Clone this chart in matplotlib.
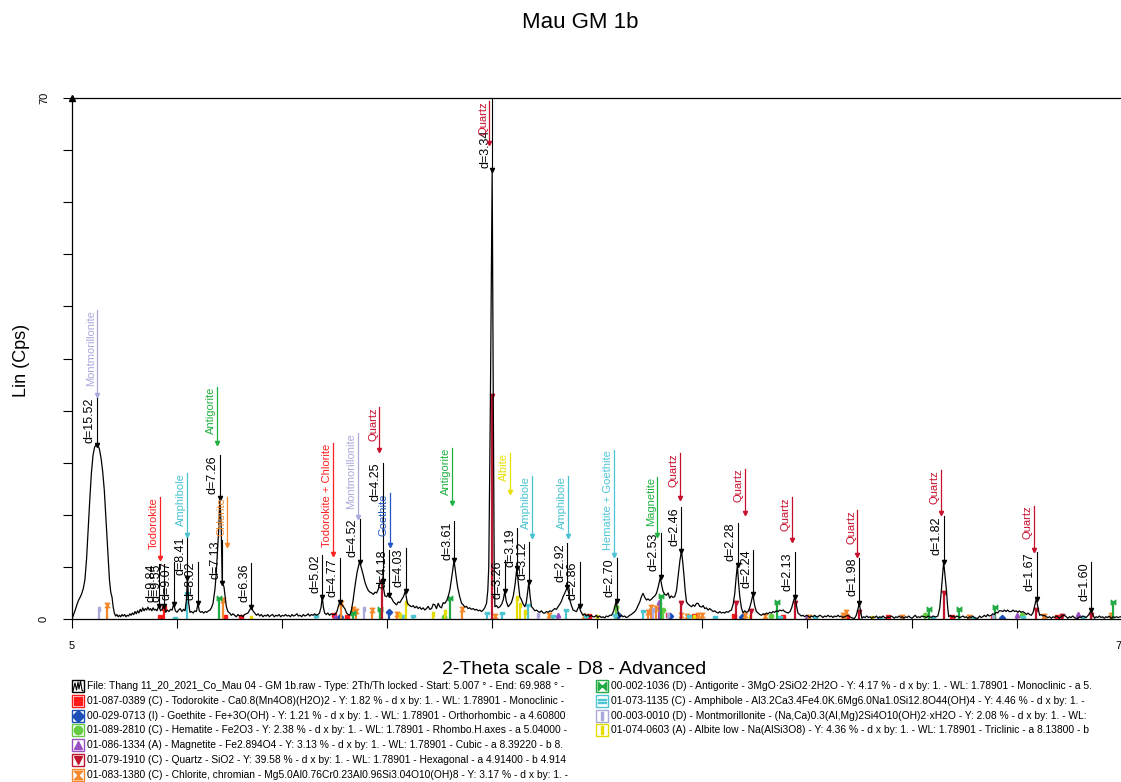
import matplotlib
matplotlib.use("Agg")
import matplotlib.pyplot as plt
from matplotlib.patches import Rectangle
from matplotlib.lines import Line2D
from matplotlib.path import Path
from matplotlib import transforms

plt.rcParams['font.family'] = ['Liberation Sans', 'DejaVu Sans']

W, H = 1121, 782

# scan (2-theta, Cps), split in pieces
scan_a = [(5.00, 0.0), (5.10, 0.6), (5.20, 1.2), (5.30, 1.9), (5.40, 2.5), (5.50, 2.9), (5.60, 3.4),
          (5.70, 4.1), (5.80, 5.3), (5.90, 8.0), (6.00, 12.0), (6.10, 16.0), (6.20, 19.6), (6.30, 22.0),
          (6.40, 23.1), (6.50, 23.4), (6.60, 23.4), (6.70, 22.8), (6.80, 21.6), (6.90, 19.8), (7.00, 17.3),
          (7.10, 13.5), (7.20, 9.7), (7.32, 5.2), (7.40, 3.6), (7.48, 2.9), (7.55, 1.6), (7.62, 0.8),
          (7.70, 0.4), (7.78, 0.6), (7.86, 0.3), (7.94, 0.5), (8.02, 0.3), (8.10, 0.6), (8.18, 0.4),
          (8.26, 0.6), (8.34, 0.3), (8.42, 0.5), (8.50, 0.4), (8.58, 0.7), (8.66, 0.5), (8.74, 0.8),
          (8.82, 0.6), (8.90, 1.0), (8.98, 0.7), (9.06, 1.1), (9.14, 0.8), (9.22, 1.3), (9.30, 1.0),
          (9.38, 1.5), (9.46, 1.1), (9.54, 1.4), (9.62, 1.2), (9.70, 1.6), (9.78, 1.2), (9.86, 1.4),
          (9.94, 1.1), (10.02, 1.5), (10.10, 1.2), (10.18, 1.3), (10.26, 1.1), (10.38, 1.8), (10.48, 1.1),
          (10.58, 1.3), (10.69, 1.8), (10.80, 0.9), (10.90, 1.2), (11.00, 1.0), (11.10, 1.3), (11.20, 1.2),
          (11.29, 2.0), (11.40, 1.1), (11.50, 0.9), (11.60, 1.2), (11.70, 1.4), (11.80, 1.0), (11.90, 1.3),
          (12.00, 1.1), (12.08, 2.5), (12.15, 5.5), (12.22, 2.2), (12.30, 0.9), (12.40, 1.0), (12.50, 0.8),
          (12.60, 1.1), (12.70, 1.0), (12.80, 2.1), (12.88, 1.1), (12.96, 0.9), (13.05, 1.0), (13.15, 0.8),
          (13.25, 1.0), (13.35, 0.9), (13.45, 1.1), (13.55, 1.2), (13.65, 1.6), (13.73, 2.1), (13.85, 4.0),
          (13.93, 6.1), (14.02, 9.5), (14.08, 12.0), (14.16, 16.2), (14.24, 12.0), (14.30, 4.8), (14.36, 4.6),
          (14.41, 4.3), (14.48, 3.0), (14.55, 1.7), (14.65, 1.0), (14.76, 0.8), (14.86, 0.5), (14.96, 0.7),
          (15.07, 0.5), (15.17, 0.3), (15.27, 0.6), (15.37, 0.4), (15.48, 0.5), (15.58, 0.3), (15.68, 0.6),
          (15.78, 0.7), (15.89, 0.8), (16.00, 1.2), (16.11, 1.65), (16.20, 1.1), (16.31, 0.8), (16.42, 0.5),
          (16.52, 0.7), (16.62, 0.4), (16.72, 0.6), (16.82, 0.3), (16.92, 0.5), (17.02, 0.4), (17.12, 0.6),
          (17.22, 0.3), (17.32, 0.5), (17.42, 0.6), (17.52, 0.3), (17.62, 0.5), (17.72, 0.4), (17.82, 0.6),
          (17.92, 0.3), (18.02, 0.5), (18.12, 0.4), (18.22, 0.6), (18.32, 0.4), (18.42, 0.5), (18.52, 0.3),
          (18.62, 0.6), (18.72, 0.4), (18.82, 0.5), (18.92, 0.7), (19.02, 0.4), (19.12, 0.5), (19.22, 0.3),
          (19.32, 0.6), (19.42, 0.4), (19.52, 0.5), (19.62, 0.7), (19.72, 0.4), (19.82, 0.6), (19.92, 0.5)]
scan_b = [(20.02, 0.7), (20.12, 0.5), (20.22, 0.6), (20.32, 0.8), (20.42, 1.6), (20.49, 3.0), (20.56, 1.6),
          (20.64, 0.8), (20.74, 0.6), (20.84, 0.8), (20.94, 0.5), (21.04, 0.7), (21.14, 0.6), (21.27, 0.6),
          (21.40, 1.0), (21.50, 1.8), (21.58, 2.3), (21.68, 2.0), (21.78, 1.7), (21.89, 1.4), (22.00, 0.8),
          (22.10, 0.6), (22.20, 0.5), (22.30, 1.2), (22.40, 2.5), (22.51, 4.3), (22.65, 6.3), (22.80, 7.7),
          (22.92, 6.8), (23.03, 5.9), (23.14, 4.9), (23.24, 4.3), (23.35, 3.8), (23.45, 3.6), (23.55, 3.5),
          (23.65, 3.3), (23.76, 3.6), (23.86, 3.5), (23.96, 4.0), (24.06, 4.8), (24.14, 5.0), (24.21, 5.1),
          (24.30, 4.0), (24.37, 3.1), (24.47, 3.0), (24.57, 3.3), (24.68, 3.0), (24.78, 2.8), (24.90, 2.3),
          (25.00, 2.1), (25.09, 1.9), (25.20, 2.3), (25.30, 2.2), (25.40, 2.6), (25.52, 3.0), (25.64, 3.8),
          (25.72, 2.6), (25.77, 2.1), (25.90, 1.8), (26.02, 1.65), (26.12, 1.8), (26.22, 1.5), (26.33, 1.7),
          (26.43, 1.4), (26.53, 1.6), (26.63, 1.3), (26.74, 1.5), (26.84, 1.2), (26.94, 1.4), (27.05, 1.7),
          (27.15, 1.3), (27.26, 1.4), (27.36, 2.0), (27.46, 1.9), (27.56, 1.4), (27.67, 2.1), (27.77, 1.65),
          (27.87, 1.5), (27.98, 2.2), (28.08, 2.1), (28.20, 2.5), (28.30, 3.1), (28.39, 3.9), (28.52, 5.8),
          (28.65, 7.9), (28.76, 6.0), (28.87, 4.3), (29.00, 3.0), (29.12, 2.1), (29.22, 1.9), (29.32, 1.6),
          (29.42, 1.7), (29.52, 1.4), (29.62, 1.5), (29.73, 1.3), (29.84, 1.4), (29.94, 1.2), (30.04, 1.3),
          (30.14, 1.1), (30.25, 1.2), (30.35, 1.0), (30.45, 1.2), (30.55, 1.5), (30.66, 2.1), (30.74, 3.8),
          (30.80, 7.0), (30.90, 29.0), (31.01, 60.3), (31.08, 29.0), (31.14, 6.0), (31.18, 1.65), (31.28, 1.8),
          (31.38, 1.5), (31.49, 1.65), (31.60, 2.0), (31.70, 2.6), (31.79, 3.7), (31.88, 2.4), (32.00, 1.65),
          (32.10, 1.9), (32.20, 2.2), (32.31, 3.0), (32.42, 4.5), (32.54, 6.9), (32.62, 5.0), (32.72, 3.0),
          (32.82, 2.6), (32.93, 2.0), (33.03, 1.65), (33.12, 2.2), (33.20, 3.5), (33.28, 5.0), (33.36, 3.0),
          (33.45, 1.65), (33.55, 1.4), (33.65, 1.1), (33.76, 1.2), (33.86, 1.0), (33.96, 0.9), (34.06, 1.1),
          (34.17, 0.8), (34.27, 0.8), (34.37, 1.0), (34.47, 0.9), (34.58, 1.1), (34.68, 1.0), (34.78, 1.2),
          (34.88, 1.4), (34.99, 1.3), (35.09, 1.65), (35.20, 2.0), (35.30, 2.4), (35.40, 3.0), (35.53, 3.6),
          (35.66, 4.3), (35.74, 3.6), (35.82, 2.55), (35.92, 1.8), (36.02, 1.2), (36.12, 1.1), (36.23, 1.0),
          (36.31, 1.4), (36.39, 1.75), (36.50, 1.0), (36.64, 0.5), (36.74, 0.7), (36.84, 0.4), (36.94, 0.6),
          (37.04, 0.3), (37.14, 0.5), (37.25, 0.3), (37.36, 0.3), (37.46, 0.5), (37.56, 0.2), (37.66, 0.4),
          (37.77, 0.2), (37.87, 0.3), (37.98, 0.15), (38.08, 0.4), (38.18, 0.3), (38.29, 0.5), (38.40, 0.5),
          (38.50, 0.9), (38.60, 1.6), (38.68, 2.4), (38.76, 1.4), (38.84, 0.6), (38.91, 0.3), (39.01, 0.5),
          (39.11, 0.3), (39.21, 0.4), (39.31, 0.2), (39.42, 0.3), (39.52, 0.5), (39.62, 0.6), (39.73, 0.8),
          (39.84, 1.0), (39.94, 1.3)]
scan_c = [(40.04, 1.8), (40.15, 2.3), (40.25, 3.0), (40.35, 3.45), (40.46, 2.9), (40.56, 2.55), (40.66, 2.7),
          (40.76, 2.5), (40.87, 2.65), (40.97, 2.9), (41.08, 3.1), (41.18, 3.45), (41.30, 4.4), (41.42, 5.6),
          (41.50, 4.6), (41.59, 3.7), (41.70, 3.3), (41.80, 3.2), (41.90, 3.5), (42.00, 2.8), (42.10, 3.1),
          (42.20, 2.9), (42.31, 3.0), (42.42, 3.8), (42.52, 5.7), (42.63, 7.8), (42.73, 9.2), (42.81, 7.6),
          (42.89, 5.7), (42.96, 3.8), (43.04, 2.3), (43.14, 2.0), (43.25, 1.8), (43.35, 1.65), (43.45, 1.9),
          (43.55, 1.7), (43.66, 2.1), (43.76, 2.1), (43.86, 1.7), (43.97, 1.6), (44.07, 1.8), (44.17, 1.4),
          (44.27, 1.5), (44.38, 1.2), (44.48, 1.4), (44.59, 1.2), (44.69, 1.0), (44.79, 1.1), (44.90, 0.9),
          (45.00, 0.8), (45.10, 1.0), (45.21, 0.8), (45.31, 0.9), (45.41, 0.8), (45.51, 1.0), (45.62, 0.9),
          (45.72, 1.1), (45.82, 1.2), (45.93, 2.0), (46.03, 3.45), (46.11, 5.5), (46.19, 7.2), (46.26, 5.0),
          (46.34, 3.0), (46.44, 1.5), (46.54, 0.8), (46.64, 1.1), (46.75, 0.9), (46.85, 1.0), (46.95, 1.5),
          (47.05, 2.3), (47.15, 3.3), (47.26, 1.8), (47.37, 1.0), (47.47, 0.8), (47.58, 0.6), (47.68, 0.5),
          (47.78, 0.7), (47.88, 0.6), (47.99, 0.8), (48.09, 0.7), (48.19, 0.9), (48.30, 0.8), (48.40, 1.0),
          (48.50, 0.9), (48.61, 1.1), (48.71, 1.0), (48.81, 1.2), (48.92, 1.1), (49.02, 1.2), (49.12, 1.0),
          (49.22, 0.9), (49.33, 0.8), (49.45, 1.0), (49.55, 1.5), (49.64, 2.2), (49.74, 3.0), (49.84, 1.9),
          (49.94, 0.8), (50.04, 0.6), (50.15, 0.4), (50.25, 0.5), (50.36, 0.3), (50.46, 0.5), (50.56, 0.4),
          (50.67, 0.2), (50.77, 0.4), (50.87, 0.3), (50.97, 0.5), (51.08, 0.3), (51.18, 0.3), (51.28, 0.5),
          (51.38, 0.4), (51.49, 0.2), (51.59, 0.4), (51.69, 0.3), (51.80, 0.5), (51.90, 0.3), (52.01, 0.4),
          (52.11, 0.2), (52.21, 0.4), (52.32, 0.3), (52.42, 0.5), (52.52, 0.3), (52.62, 0.4), (52.73, 0.2),
          (52.83, 0.3), (52.93, 0.4), (53.04, 0.5), (53.14, 0.3), (53.24, 0.2), (53.35, 0.1), (53.45, 0.1),
          (53.55, 0.5), (53.64, 1.2), (53.73, 2.1), (53.82, 1.0), (53.90, 0.1), (54.00, 0.3), (54.10, 0.2),
          (54.20, 0.4), (54.30, 0.2), (54.40, 0.3), (54.50, 0.1), (54.60, 0.3), (54.70, 0.2), (54.80, 0.4),
          (54.90, 0.1), (55.00, 0.3), (55.10, 0.2), (55.20, 0.4), (55.30, 0.2), (55.40, 0.1), (55.50, 0.3),
          (55.60, 0.2), (55.70, 0.4), (55.80, 0.3), (55.90, 0.1), (56.00, 0.3), (56.10, 0.2), (56.20, 0.4),
          (56.30, 0.2), (56.40, 0.3), (56.50, 0.1), (56.60, 0.3), (56.70, 0.2), (56.80, 0.4), (56.90, 0.2),
          (57.00, 0.1), (57.10, 0.3), (57.20, 0.5), (57.30, 0.2), (57.40, 0.3), (57.50, 0.2), (57.60, 0.4),
          (57.70, 0.3), (57.80, 0.3), (57.90, 0.2), (58.00, 0.4), (58.10, 0.3), (58.20, 0.2), (58.30, 0.4),
          (58.40, 0.3), (58.50, 0.3), (58.60, 0.4), (58.72, 1.5), (58.82, 3.9), (58.96, 7.7), (59.06, 5.5),
          (59.13, 3.9), (59.20, 1.8), (59.27, 0.3), (59.37, 0.5), (59.47, 0.3), (59.57, 0.4), (59.67, 0.2),
          (59.77, 0.4), (59.87, 0.3), (59.97, 0.2)]
scan_d = [(60.06, 0.3), (60.16, 0.4), (60.26, 0.2), (60.36, 0.3), (60.46, 0.1), (60.56, 0.3), (60.66, 0.2),
          (60.76, 0.4), (60.86, 0.2), (60.96, 0.1), (61.08, 0.1), (61.18, 0.4), (61.28, 0.2), (61.38, 0.3),
          (61.48, 0.5), (61.58, 0.3), (61.68, 0.6), (61.78, 0.4), (61.91, 0.5), (62.00, 0.7), (62.10, 0.6),
          (62.20, 0.9), (62.30, 0.8), (62.40, 1.1), (62.53, 1.1), (62.62, 1.0), (62.72, 1.2), (62.82, 1.0),
          (62.92, 1.2), (63.02, 1.0), (63.15, 1.0), (63.25, 1.2), (63.35, 1.0), (63.45, 1.1), (63.55, 0.9),
          (63.65, 1.1), (63.75, 0.9), (63.85, 1.0), (63.97, 0.85), (64.08, 0.6), (64.18, 0.8), (64.28, 0.6),
          (64.39, 0.5), (64.50, 0.9), (64.60, 1.8), (64.70, 2.75), (64.80, 1.5), (64.90, 0.5), (65.00, 0.6),
          (65.10, 0.4), (65.20, 0.5), (65.30, 0.3), (65.42, 0.2), (65.52, 0.3), (65.63, 0.1), (65.73, 0.3),
          (65.83, 0.2), (65.93, 0.4), (66.03, 0.3), (66.13, 0.1), (66.23, 0.3), (66.35, 0.5), (66.45, 0.5),
          (66.55, 0.3), (66.65, 0.1), (66.75, 0.3), (66.85, 0.2), (66.95, 0.4), (67.05, 0.2), (67.15, 0.1),
          (67.27, 0.1), (67.37, 0.3), (67.47, 0.2), (67.57, 0.4), (67.67, 0.3), (67.77, 0.2), (67.87, 0.4),
          (67.95, 0.6), (68.02, 0.9), (68.09, 1.15), (68.18, 0.6), (68.30, 0.1), (68.40, 0.3), (68.50, 0.2),
          (68.60, 0.4), (68.70, 0.2), (68.80, 0.3), (68.90, 0.1), (69.00, 0.3), (69.10, 0.2), (69.20, 0.4),
          (69.34, 0.1), (69.45, 0.3), (69.55, 0.2), (69.65, 0.3), (69.75, 0.2), (69.91, 0.3)]

# peak labels: text, 2-theta, peak Cps, top of the leader line
d_text = ["d=15.52", "d=9.84", "d=9.55", "d=9.07", "d=8.41", "d=8.02", "d=7.26", "d=7.13", "d=6.36",
          "d=5.02", "d=4.77", "d=4.52", "d=4.25", "d=4.18", "d=4.03", "d=3.61", "d=3.34", "d=3.26",
          "d=3.19", "d=3.12", "d=2.92", "d=2.86", "d=2.70", "d=2.53", "d=2.46", "d=2.28", "d=2.24",
          "d=2.13", "d=1.98", "d=1.82", "d=1.67", "d=1.60"]
d_tth = [6.53, 10.36, 10.69, 11.29, 12.14, 12.80, 14.16, 14.30, 16.10, 20.49, 21.58, 22.82, 24.24, 24.63,
         25.65, 28.66, 31.03, 31.79, 32.56, 33.30, 35.65, 36.44, 38.72, 41.44, 42.73, 46.21, 47.16, 49.74,
         53.72, 58.96, 64.72, 68.09]
d_peak = [23.4, 1.8, 1.8, 2.0, 5.5, 2.1, 16.2, 4.8, 1.65, 3.0, 2.3, 7.7, 5.1, 3.2, 3.8, 7.9, 60.3, 3.7,
          6.9, 5.0, 4.3, 1.75, 2.4, 5.6, 9.2, 7.2, 3.3, 3.0, 2.1, 7.7, 2.75, 1.15]
d_top = [29.8, 7.4, 7.4, 7.7, 11.1, 7.7, 22.0, 10.6, 7.5, 8.6, 8.2, 13.5, 21.0, 9.3, 9.5, 13.1, 70.0, 7.9,
         12.2, 10.4, 10.2, 7.7, 8.2, 11.6, 15.0, 12.9, 9.3, 9.0, 8.2, 13.8, 9.0, 7.6]
d_text_drop = {"d=3.34": 4.3}

# phase labels: text, colour, 2-theta, arrow top, arrow head
ph_text = ["Montmorillonite", "Todorokite", "Amphibole", "Antigorite", "Chlorite", "Todorokite + Chlorite",
           "Montmorillonite", "Quartz", "Goethite", "Antigorite", "Quartz", "Albite", "Amphibole", "Amphibole",
           "Hematite + Goethite", "Magnetite", "Quartz", "Quartz", "Quartz", "Quartz", "Quartz", "Quartz"]
ph_color = ["#a9a9dc", "#ff2020", "#49c3d0", "#1fb040", "#f5872a", "#ff2020", "#a9a9dc", "#c8102e",
            "#2457c5", "#1fb040", "#c8102e", "#e8e000", "#49c3d0", "#49c3d0", "#4cc6d6", "#1fb040",
            "#c8102e", "#c8102e", "#c8102e", "#c8102e", "#c8102e", "#c8102e"]
ph_tth = [6.55, 10.45, 12.14, 13.99, 14.61, 21.17, 22.68, 24.02, 24.68, 28.53, 30.82, 32.10, 33.45, 35.71,
          38.56, 41.22, 42.62, 46.65, 49.57, 53.62, 58.78, 64.55]
ph_top = [41.5, 16.4, 19.6, 31.2, 16.4, 23.6, 25.0, 28.5, 16.9, 23.0, 69.6, 22.3, 19.2, 19.2, 22.7, 19.1,
          22.3, 20.2, 16.4, 14.6, 20.0, 15.2]
ph_head = [30.1, 8.2, 11.3, 23.6, 9.9, 8.8, 13.7, 22.7, 9.9, 15.6, 63.9, 17.1, 11.1, 11.1, 8.6, 11.3,
           16.2, 14.2, 10.6, 8.6, 14.2, 9.3]

# reference sticks (2-theta, Cps) per phase
quartz_st = [(24.21, 5.0), (31.01, 30.0), (42.68, 2.1), (46.13, 2.1), (47.06, 1.1), (49.74, 2.1),
             (53.72, 1.0), (58.96, 3.5), (64.70, 1.2), (66.30, 0.4), (68.10, 0.5)]
todorokite_st = [(10.43, 0.3), (10.69, 1.5), (14.45, 0.3), (15.48, 0.3), (21.20, 0.6), (22.00, 0.3),
                 (37.00, 0.4), (41.90, 0.5), (43.50, 0.4), (46.00, 0.4), (49.00, 0.3), (53.00, 0.3),
                 (55.50, 0.3), (59.50, 0.3), (62.00, 0.2), (66.00, 0.3)]
goethite_st = [(21.60, 0.3), (24.63, 1.0), (38.80, 0.5), (42.00, 0.4), (46.50, 0.3), (62.60, 0.2)]
hematite_st = [(28.00, 0.3), (38.68, 1.6), (41.60, 1.2), (48.30, 0.4), (57.80, 0.5), (63.80, 0.5)]
magnetite_st = [(21.30, 0.3), (35.09, 0.6), (41.34, 2.3), (50.50, 0.3), (63.50, 0.5), (67.27, 0.7)]
chlorite_st = [(7.15, 1.9), (14.37, 2.55), (21.65, 2.1), (22.41, 1.4), (22.56, 1.1), (23.55, 1.2),
               (25.10, 0.7), (29.12, 1.4), (31.18, 0.4), (34.50, 0.5), (36.70, 0.4), (40.66, 1.0),
               (40.87, 1.6), (41.18, 1.5), (42.73, 0.5), (43.10, 0.4), (43.76, 0.5), (44.00, 0.5),
               (46.65, 0.5), (47.90, 0.4), (50.60, 0.3), (52.73, 0.5), (52.94, 1.0), (56.40, 0.3),
               (60.50, 0.3), (65.20, 0.4), (69.34, 0.6)]
antigorite_st = [(14.08, 2.8), (22.41, 0.8), (24.06, 1.4), (28.42, 2.8), (41.49, 3.1), (48.65, 2.3),
                 (58.05, 1.3), (59.91, 1.3), (62.12, 1.65), (69.44, 2.3)]
amphibole_st = [(11.35, 0.2), (12.12, 3.5), (20.12, 0.4), (25.50, 0.4), (26.10, 0.4), (30.72, 0.8),
                (31.59, 0.8), (33.24, 1.9), (34.80, 0.4), (35.61, 1.2), (36.80, 0.4), (38.60, 0.5),
                (40.35, 1.1), (43.20, 0.4), (44.80, 0.3), (48.80, 0.3), (51.00, 0.3), (55.00, 0.2),
                (58.30, 0.2), (60.80, 0.2), (63.90, 0.3), (67.60, 0.3)]
montmor_st = [(6.65, 1.4), (23.09, 1.3), (33.84, 0.6), (40.97, 1.2), (41.90, 0.5), (62.00, 0.3)]
albite_st = [(16.06, 0.2), (25.30, 0.5), (25.67, 2.1), (27.36, 0.7), (28.08, 0.9), (32.52, 2.8),
             (32.72, 1.9), (33.03, 0.9), (37.50, 0.3), (43.50, 0.3), (47.00, 0.3), (54.50, 0.2)]

legend_left = [
    "File: Thang 11_20_2021_Co_Mau 04 - GM 1b.raw - Type: 2Th/Th locked - Start: 5.007 \u00b0 - End: 69.988 \u00b0 -",
    "01-087-0389 (C) - Todorokite - Ca0.8(Mn4O8)(H2O)2 - Y: 1.82 % - d x by: 1. - WL: 1.78901 - Monoclinic -",
    "00-029-0713 (I) - Goethite - Fe+3O(OH) - Y: 1.21 % - d x by: 1. - WL: 1.78901 - Orthorhombic - a 4.60800",
    "01-089-2810 (C) - Hematite - Fe2O3 - Y: 2.38 % - d x by: 1. - WL: 1.78901 - Rhombo.H.axes - a 5.04000 -",
    "01-086-1334 (A) - Magnetite - Fe2.894O4 - Y: 3.13 % - d x by: 1. - WL: 1.78901 - Cubic - a 8.39220 - b 8.",
    "01-079-1910 (C) - Quartz - SiO2 - Y: 39.58 % - d x by: 1. - WL: 1.78901 - Hexagonal - a 4.91400 - b 4.914",
    "01-083-1380 (C) - Chlorite, chromian - Mg5.0Al0.76Cr0.23Al0.96Si3.04O10(OH)8 - Y: 3.17 % - d x by: 1. -",
]
legend_right = [
    "00-002-1036 (D) - Antigorite - 3MgO\u00b72SiO2\u00b72H2O - Y: 4.17 % - d x by: 1. - WL: 1.78901 - Monoclinic - a 5.",
    "01-073-1135 (C) - Amphibole - Al3.2Ca3.4Fe4.0K.6Mg6.0Na1.0Si12.8O44(OH)4 - Y: 4.46 % - d x by: 1. -",
    "00-003-0010 (D) - Montmorillonite - (Na,Ca)0.3(Al,Mg)2Si4O10(OH)2\u00b7xH2O - Y: 2.08 % - d x by: 1. - WL:",
    "01-074-0603 (A) - Albite low - Na(AlSi3O8) - Y: 4.36 % - d x by: 1. - WL: 1.78901 - Triclinic - a 8.13800 - b",
]

hourglass = Path([(-1, 1), (1, 1), (-1, -1), (1, -1), (-1, 1)], closed=True)
bowtie = Path([(-1, 1), (-1, -1), (1, 1), (1, -1), (-1, 1)], closed=True)

# phase: sticks, colour, marker
phases = [
    (todorokite_st, "#ff1a1a", "s"),
    (goethite_st, "#1d4fb8", "D"),
    (hematite_st, "#66cc44", "o"),
    (magnetite_st, "#9a4fc0", "^"),
    (chlorite_st, "#f5882a", hourglass),
    (antigorite_st, "#22aa44", bowtie),
    (amphibole_st, "#4ec5d2", "$=$"),
    (montmor_st, "#a9a9dc", "$\\parallel$"),
    (albite_st, "#e6dc00", "$\\parallel$"),
    (quartz_st, "#c0142c", "v"),
]

fig = plt.figure(figsize=(W / 100, H / 100), dpi=100)
ax = fig.add_axes([72 / W, (H - 619) / H, 1050 / W, 521 / H])

for sticks, col, mk in phases:
    xs = [s[0] for s in sticks]
    hs = [s[1] for s in sticks]
    ax.vlines(xs, 0, hs, color=col, lw=1.6, zorder=2)
    ax.plot(xs, hs, ls="none", marker=mk, ms=3.2, color=col, mec=col, zorder=2)

scan = scan_a + scan_b + scan_c + scan_d
ax.plot([p[0] for p in scan], [p[1] for p in scan], color="black", lw=0.9, zorder=3)

left_of = transforms.offset_copy(ax.transData, fig=fig, x=-1, y=0, units="dots")

for t, x, pk, top in zip(d_text, d_tth, d_peak, d_top):
    ax.plot([x, x], [pk, top], color="black", lw=0.8, zorder=4, clip_on=False)
    ax.plot(x, pk, marker="v", ms=3, color="black", zorder=4)
    ax.text(x, top - d_text_drop.get(t, 0), t, rotation=90, ha="right", va="top",
            fontsize=9, color="black", transform=left_of, zorder=4)

for t, col, x, top, head in zip(ph_text, ph_color, ph_tth, ph_top, ph_head):
    ax.plot([x, x], [head, top], color=col, lw=0.9, zorder=4)
    ax.plot(x, head, marker="v", ms=3, color=col, zorder=4)
    ax.text(x, top, t, rotation=90, ha="right", va="top", fontsize=8, color=col,
            transform=left_of, zorder=4)

ax.set_xlim(5, 70)
ax.set_ylim(0, 70)
xt = [5 + 6.5 * i for i in range(11)]
yt = [7 * i for i in range(11)]
ax.set_xticks(xt)
ax.set_xticklabels(["5"] + [""] * 9 + ["70"], fontsize=8)
ax.set_yticks(yt)
ax.set_yticklabels(["0"] + [""] * 9 + ["70"], fontsize=8, rotation=90, va="center")
ax.tick_params(axis="x", direction="out", length=6.5, width=0.8, pad=9)
ax.tick_params(axis="y", direction="out", length=6.5, width=0.8, pad=10)
for s in ["left", "bottom", "top"]:
    ax.spines[s].set_linewidth(0.9)
ax.spines["right"].set_visible(False)
ax.plot(5, 70, marker="^", ms=4, color="black", clip_on=False, zorder=5)

fig.text(580 / W, 1 - 22 / H, "Mau GM 1b", ha="center", va="center", fontsize=16)
fig.text(574 / W, 1 - 670 / H, "2-Theta scale - D8 - Advanced", ha="center", va="center", fontsize=14)
fig.text(22 / W, 1 - 360 / H, "Lin (Cps)", ha="center", va="center", rotation=90, fontsize=13)


def px(x, y):
    return x / W, 1 - y / H


def icon(x0, yc, col, mk):
    fig.add_artist(Rectangle(px(x0, yc + 6), 12 / W, 12 / H, transform=fig.transFigure,
                             facecolor="white", edgecolor=col, lw=1.0))
    fig.add_artist(Line2D([(x0 + 6) / W], [1 - yc / H], transform=fig.transFigure,
                          marker=mk, ms=6, color=col, mec=col, ls="none"))


leg_marks = [(None, None), ("#ff1a1a", "s"), ("#1d4fb8", "D"), ("#66cc44", "o"), ("#9a4fc0", "^"),
             ("#c0142c", "v"), ("#f5882a", hourglass)]
leg_marks_r = [("#22aa44", bowtie), ("#4ec5d2", "$=$"), ("#a9a9dc", "$\\parallel$"), ("#e6dc00", "$\\parallel$")]

for i, txt in enumerate(legend_left):
    yc = 686 + 14.8 * i
    col, mk = leg_marks[i]
    if col is None:
        fig.add_artist(Rectangle(px(72, yc + 6), 12 / W, 12 / H, transform=fig.transFigure,
                                 facecolor="white", edgecolor="black", lw=1.0))
        zx = [73, 75, 76.5, 78, 79, 80.5, 82, 83]
        zy = [5, -3, 4, -4, 3, -5, 4, 5]
        fig.add_artist(Line2D([v / W for v in zx], [1 - (yc + v) / H for v in zy],
                              transform=fig.transFigure, color="black", lw=0.8))
    else:
        icon(72, yc, col, mk)
    fig.text(87 / W, 1 - yc / H, txt, ha="left", va="center", fontsize=7.4)

for i, txt in enumerate(legend_right):
    yc = 686 + 14.8 * i
    col, mk = leg_marks_r[i]
    icon(596, yc, col, mk)
    fig.text(611 / W, 1 - yc / H, txt, ha="left", va="center", fontsize=7.4)

fig.savefig("out.png", dpi=100)
